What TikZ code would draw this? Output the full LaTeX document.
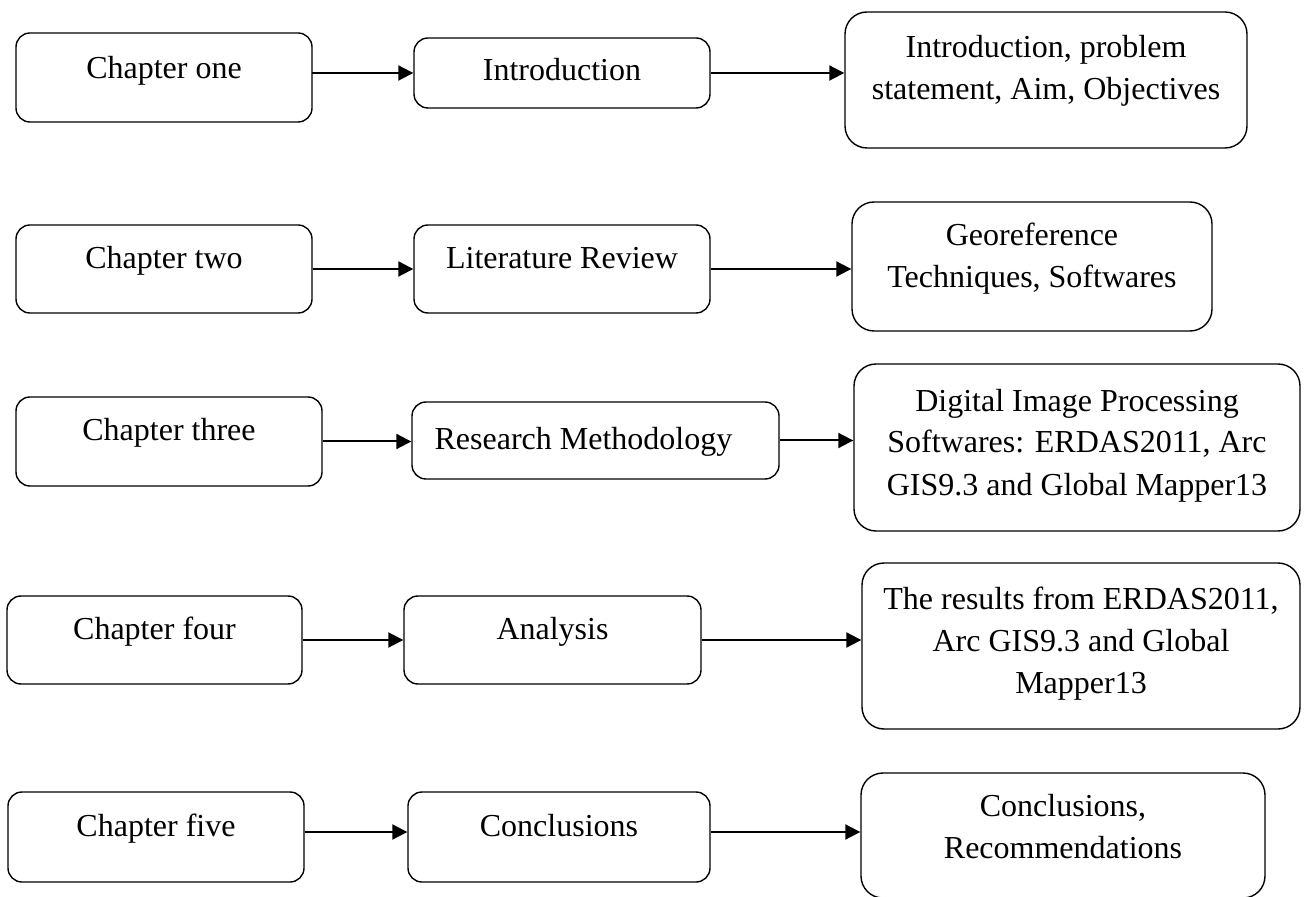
\documentclass[tikz,border=0pt]{standalone}
\usepackage{fontspec}
\setmainfont{Liberation Serif}
\usepackage{tikz}
\usetikzlibrary{
    positioning,      % For placing nodes relative to each other
    arrows.meta       % For modern arrow tips (e.g., Triangle)
}

\begin{document}
\begin{tikzpicture}[
    x=0.5pt, y=-0.5pt, % One unit is one pixel of the layout, y grows downwards
    % Style for the rounded boxes
    box_style/.style={
        draw,
        line width=0.7pt,
        rounded corners=7pt,
        inner sep=0pt,
        align=center,
        text height=11pt,
        font=\fontsize{16pt}{21pt}\selectfont
    },
    % Style for the larger boxes on the right
    big_box/.style={
        box_style,
        rounded corners=11pt
    },
    % Style for arrowheads
    arrow_tip/.style={
        line width=1pt,
        -{Triangle[length=7.5pt, width=7.5pt]}
    }
]
    \useasboundingbox (0,0) rectangle (1316,897);

    % 1. Chapter one
    \node[box_style, minimum width=148pt, minimum height=44.5pt, text depth=10pt] (ch_one) at (164,77.5) {Chapter one};
    \node[box_style, minimum width=148pt, minimum height=35pt, text depth=3pt] (intro) at (562,73) {Introduction};
    \node[big_box, minimum width=201pt, minimum height=68pt, text height=32pt, text depth=12pt] (intro_items) at (1046,80)
        {Introduction, problem \\ statement, Aim, Objectives};

    % 2. Chapter two
    \node[box_style, minimum width=148pt, minimum height=44pt, text depth=11pt] (ch_two) at (164,269) {Chapter two};
    \node[box_style, minimum width=148pt, minimum height=44pt, text depth=11pt] (lit_review) at (562,269) {Literature Review};
    \node[big_box, minimum width=180pt, minimum height=64.5pt, text height=32pt, text depth=10.5pt] (geo_items) at (1032,266.5)
        {Georeference \\ Techniques, Softwares};

    % 3. Chapter three
    \node[box_style, minimum width=153pt, minimum height=44.5pt, text depth=11.5pt] (ch_three) at (169,441.5) {Chapter three};
    \node[box_style, minimum width=183.5pt, minimum height=38.5pt, text depth=1.5pt] (method) at (595.5,440.5) {Research Methodology\hspace*{12pt}};
    \node[big_box, minimum width=223pt, minimum height=83.5pt, text height=53pt, text depth=5.5pt] (method_items) at (1077,447.5)
        {Digital Image Processing \\ Softwares: ERDAS2011, Arc \\ GIS9.3 and Global Mapper13};

    % 4. Chapter four
    \node[box_style, minimum width=147.5pt, minimum height=44pt, text depth=12pt] (ch_four) at (154.5,640) {Chapter four};
    \node[box_style, minimum width=148.5pt, minimum height=44pt, text depth=12pt] (analysis) at (552.5,640) {Analysis};
    \node[big_box, minimum width=219pt, minimum height=83pt, text height=53pt, text depth=6pt] (analysis_items) at (1081,646)
        {The results from ERDAS2011, \\ Arc GIS9.3 and Global \\ Mapper13};

    % 5. Chapter five
    \node[box_style, minimum width=148pt, minimum height=45pt, text depth=12pt] (ch_five) at (156,837) {Chapter five};
    \node[box_style, minimum width=151pt, minimum height=45pt, text depth=12pt] (conclusions) at (559,837) {Conclusions};
    \node[big_box, minimum width=202pt, minimum height=62.5pt, text height=32pt, text depth=9.5pt] (conclusion_items) at (1063,835.5)
        {Conclusions, \\ Recommendations};

    % 6. Arrows from chapter to topic to contents
    \draw[arrow_tip] ([yshift=2.5pt]ch_one.east) -- (ch_one.east |- intro.west) -- (intro.west);
    \draw[arrow_tip] (intro.east) -- (intro.east -| intro_items.west);
    \draw[arrow_tip] (ch_two.east) -- (lit_review.west);
    \draw[arrow_tip] (lit_review.east) -- (lit_review.east -| geo_items.west);
    \draw[arrow_tip] (ch_three.east) -- (ch_three.east -| method.west);
    \draw[arrow_tip] (method.east) -- (method.east -| method_items.west);
    \draw[arrow_tip] (ch_four.east) -- (analysis.west);
    \draw[arrow_tip] (analysis.east) -- (analysis.east -| analysis_items.west);
    \draw[arrow_tip] ([yshift=2.5pt]ch_five.east) -- ([yshift=2.5pt]conclusions.west);
    \draw[arrow_tip] ([yshift=2.5pt]conclusions.east) -- ([yshift=2.5pt]conclusions.east -| conclusion_items.west);

\end{tikzpicture}
\end{document}
